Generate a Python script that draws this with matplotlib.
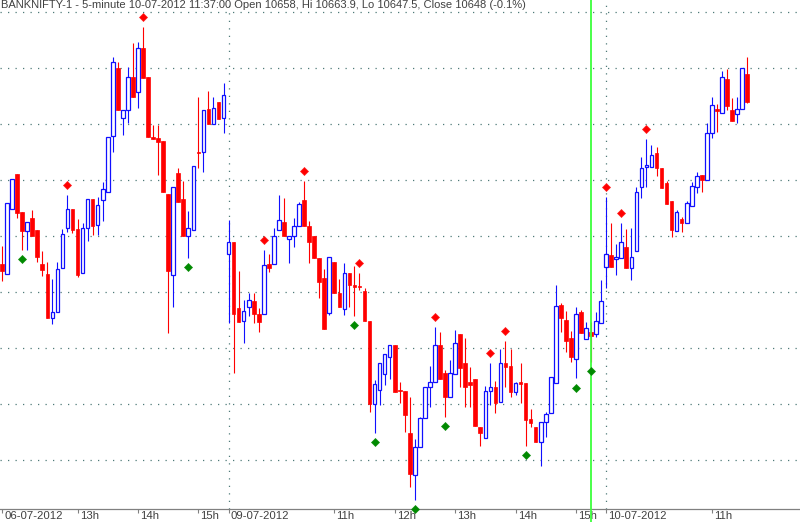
import numpy as np
import matplotlib
matplotlib.use("Agg")
import matplotlib.pyplot as plt

TITLE = ("BANKNIFTY-1 - 5-minute 10-07-2012 11:37:00 Open 10658, Hi 10663.9, "
         "Lo 10647.5, Close 10648 (-0.1%)")

# trading sessions visible on screen: date label, first bar, last bar
SESSIONS = [("06-07-2012", "11:45", "15:25"),
            ("09-07-2012", "09:15", "15:25"),
            ("10-07-2012", "09:15", "11:35")]

opens = [
    10590.1, 10586.5, 10609.7, 10622.3, 10608.6, 10602.0, 10606.7, 10602.3, 10590.1, 10586.5,
    10570.7, 10573.0, 10588.6, 10602.9, 10609.9, 10602.5, 10587.0, 10602.9, 10613.2, 10603.9,
    10613.0, 10615.9, 10635.8, 10660.0, 10642.2, 10645.1, 10656.8, 10651.7, 10667.2, 10657.0,
    10635.6, 10635.0, 10634.0, 10615.1, 10586.2, 10622.7, 10613.2, 10600.1, 10602.3, 10630.1,
    10630.0, 10645.5, 10640.0, 10648.1, 10642.2, 10593.6, 10597.8, 10574.3, 10569.8, 10574.9,
    10577.0, 10572.2, 10572.2, 10590.0, 10590.0, 10602.3, 10605.1, 10598.9, 10600.1, 10603.8,
    10613.0, 10603.8, 10600.1, 10592.2, 10585.2, 10572.7, 10590.9, 10579.9, 10573.9, 10587.0,
    10582.6, 10582.0, 10580.6, 10569.9, 10540.0, 10545.1, 10550.8, 10556.8, 10561.2, 10544.9,
    10544.8, 10529.9, 10514.8, 10524.9, 10535.0, 10546.1, 10548.1, 10561.2, 10551.1, 10542.7,
    10550.8, 10565.1, 10554.9, 10548.1, 10548.9, 10532.0, 10527.9, 10544.8, 10546.1, 10540.8,
    10554.9, 10553.7, 10544.5, 10547.9, 10547.5, 10534.7, 10532.0, 10526.7, 10533.7, 10536.8,
    10547.7, 10575.5, 10570.1, 10563.6, 10556.1, 10573.1, 10563.3, 10565.9, 10565.1, 10568.9,
    10588.9, 10593.3, 10591.8, 10592.2, 10596.1, 10588.6, 10594.9, 10617.5, 10624.7, 10624.9,
    10629.9, 10624.3, 10618.9, 10612.7, 10602.0, 10606.1, 10604.9, 10610.8, 10617.5, 10621.9,
    10620.1, 10637.0, 10645.4, 10644.2, 10656.1, 10645.1, 10643.7, 10645.4, 10658.0,
]
highs = [
    10596.5, 10611.8, 10620.4, 10622.3, 10608.6, 10605.1, 10609.4, 10602.3, 10594.8, 10590.7,
    10584.7, 10590.7, 10602.5, 10614.8, 10609.9, 10606.3, 10604.9, 10613.2, 10613.2, 10613.9,
    10619.4, 10635.6, 10663.9, 10662.4, 10645.1, 10660.6, 10668.9, 10669.5, 10674.9, 10657.0,
    10639.8, 10639.8, 10634.0, 10615.1, 10617.7, 10624.3, 10619.9, 10609.2, 10625.1, 10649.7,
    10645.1, 10652.0, 10649.9, 10648.1, 10654.9, 10605.8, 10597.8, 10587.7, 10577.3, 10579.9,
    10579.7, 10574.3, 10595.1, 10593.6, 10602.9, 10614.8, 10613.8, 10600.1, 10606.4, 10612.4,
    10619.8, 10605.6, 10600.1, 10592.2, 10588.2, 10592.7, 10590.9, 10584.7, 10590.4, 10587.0,
    10589.5, 10587.0, 10581.7, 10569.9, 10548.7, 10554.7, 10558.0, 10561.2, 10561.2, 10548.1,
    10544.8, 10542.5, 10527.5, 10535.6, 10546.1, 10553.7, 10567.5, 10565.9, 10552.3, 10555.8,
    10566.5, 10565.1, 10563.6, 10553.4, 10548.9, 10532.0, 10546.5, 10554.7, 10548.3, 10559.7,
    10562.7, 10559.7, 10548.1, 10554.7, 10547.5, 10538.2, 10532.0, 10533.7, 10537.4, 10549.7,
    10582.6, 10576.1, 10573.4, 10566.3, 10574.7, 10573.7, 10569.5, 10569.5, 10573.1, 10584.4,
    10613.9, 10604.7, 10597.3, 10604.7, 10602.5, 10602.9, 10617.7, 10628.4, 10634.7, 10632.6,
    10631.8, 10624.3, 10619.9, 10612.7, 10609.4, 10607.0, 10612.7, 10619.5, 10623.1, 10621.9,
    10640.4, 10649.9, 10647.3, 10659.2, 10659.7, 10649.3, 10649.9, 10660.0, 10663.9,
]
lows = [
    10584.2, 10586.5, 10609.7, 10606.4, 10595.1, 10595.1, 10600.1, 10590.9, 10585.8, 10570.7,
    10568.6, 10573.0, 10588.6, 10601.7, 10601.1, 10585.6, 10587.0, 10598.4, 10600.4, 10600.5,
    10605.6, 10615.9, 10630.2, 10645.1, 10636.2, 10640.4, 10649.9, 10645.7, 10656.4, 10635.6,
    10634.7, 10621.9, 10615.9, 10565.4, 10574.9, 10612.4, 10600.1, 10592.2, 10602.3, 10624.3,
    10623.1, 10640.1, 10640.0, 10641.9, 10636.8, 10569.0, 10551.3, 10569.5, 10562.0, 10571.7,
    10568.9, 10565.9, 10572.2, 10587.4, 10590.0, 10602.3, 10600.1, 10590.4, 10596.3, 10603.8,
    10603.8, 10590.4, 10592.2, 10578.1, 10566.8, 10571.9, 10579.9, 10574.9, 10571.9, 10574.9,
    10571.7, 10580.8, 10569.9, 10537.4, 10529.9, 10539.8, 10546.9, 10548.9, 10544.5, 10540.4,
    10530.2, 10510.6, 10505.8, 10524.9, 10535.0, 10538.9, 10548.1, 10548.9, 10535.4, 10542.7,
    10550.8, 10546.3, 10539.2, 10539.2, 10532.3, 10525.1, 10527.9, 10539.8, 10536.8, 10540.8,
    10546.1, 10542.7, 10543.3, 10540.4, 10525.1, 10532.0, 10526.7, 10518.0, 10528.4, 10536.8,
    10547.7, 10565.9, 10558.8, 10555.2, 10549.3, 10565.4, 10563.3, 10555.2, 10564.2, 10568.9,
    10581.5, 10588.9, 10586.2, 10592.2, 10588.6, 10584.4, 10594.9, 10613.6, 10617.5, 10624.9,
    10621.5, 10617.2, 10611.5, 10599.7, 10602.0, 10601.7, 10604.9, 10610.8, 10615.4, 10615.9,
    10620.1, 10635.0, 10637.4, 10644.2, 10645.1, 10641.3, 10640.4, 10645.4, 10647.5,
]
closes = [
    10587.7, 10611.8, 10620.4, 10608.2, 10602.0, 10605.1, 10600.1, 10592.5, 10588.0, 10570.7,
    10573.0, 10588.4, 10600.7, 10609.9, 10602.3, 10586.2, 10603.0, 10613.2, 10603.7, 10611.2,
    10617.0, 10635.6, 10662.4, 10645.1, 10645.1, 10656.8, 10649.9, 10667.2, 10656.4, 10635.6,
    10634.7, 10633.8, 10615.9, 10587.7, 10617.7, 10612.4, 10600.1, 10602.9, 10625.1, 10629.8,
    10645.1, 10640.1, 10645.9, 10641.9, 10650.5, 10597.8, 10572.3, 10569.5, 10573.3, 10577.3,
    10572.2, 10569.5, 10589.8, 10588.6, 10600.1, 10605.8, 10600.1, 10600.1, 10603.8, 10611.5,
    10603.8, 10598.1, 10592.2, 10583.8, 10566.8, 10592.7, 10579.9, 10574.9, 10587.0, 10582.6,
    10581.8, 10581.8, 10569.9, 10540.1, 10547.2, 10554.7, 10558.0, 10561.2, 10544.5, 10544.6,
    10536.2, 10515.1, 10524.9, 10535.0, 10546.1, 10548.1, 10561.2, 10548.9, 10542.7, 10551.1,
    10562.0, 10552.9, 10546.1, 10546.9, 10532.3, 10529.7, 10544.8, 10546.1, 10540.6, 10554.9,
    10553.4, 10544.5, 10547.5, 10547.3, 10534.4, 10533.4, 10526.7, 10533.7, 10536.5, 10549.7,
    10575.1, 10570.7, 10562.7, 10556.8, 10572.2, 10565.4, 10567.2, 10564.4, 10569.8, 10577.0,
    10593.7, 10588.9, 10592.5, 10598.1, 10588.6, 10592.5, 10615.9, 10624.3, 10625.5, 10629.0,
    10624.3, 10617.2, 10611.5, 10602.3, 10608.8, 10604.9, 10612.0, 10618.0, 10621.5, 10620.1,
    10637.0, 10646.9, 10644.9, 10656.8, 10646.5, 10641.3, 10645.4, 10660.0, 10648.0,
]

# bars flagged by the swing markers
swing_high_idx = [13, 28, 52, 60, 71, 86, 97, 100, 120, 123, 128]
swing_low_idx = [4, 37, 70, 74, 82, 88, 104, 114, 117]
cursor_idx = 117

GRID_LEVELS = [10520, 10540, 10560, 10580, 10600, 10620, 10640, 10660, 10680]

UP = "#1010ff"
DOWN = "#ff0000"
DOTS = "#4f7a78"
TEXT = "#404040"
AXIS = "#808080"


def to_min(s):
    h, m = s.split(":")
    return int(h) * 60 + int(m)


# build bar timeline
bar_time = []
session_start = []
for label, t0, t1 in SESSIONS:
    session_start.append((len(bar_time), label))
    t = to_min(t0)
    while t <= to_min(t1):
        bar_time.append(t)
        t += 5

o = np.array(opens)
h = np.array(highs)
l = np.array(lows)
c = np.array(closes)
x = np.arange(len(o))
up = c >= o

fig = plt.figure(figsize=(8, 5.22), dpi=100)
ax = fig.add_axes([0, 12.7 / 522, 1, 509.3 / 522])
ax.set_xlim(-0.4, 158.5)
ax.set_ylim(10502.5, 10684.4)

# grid: horizontal price levels and day separators
for lvl in GRID_LEVELS:
    ax.axhline(lvl, color=DOTS, lw=0.9, ls=(0, (1, 5)), zorder=0)
for k, _ in session_start[1:]:
    ax.axvline(k, color=DOTS, lw=0.9, ls=(0, (1, 5)), zorder=0)

# candles
ax.vlines(x[up], l[up], h[up], color=UP, lw=0.8, zorder=2)
ax.vlines(x[~up], l[~up], h[~up], color=DOWN, lw=0.8, zorder=2)
w = 0.72
body = np.maximum(np.abs(c - o), 0.35)
ax.bar(x[up], body[up], bottom=np.minimum(o, c)[up], width=w,
       facecolor="white", edgecolor=UP, linewidth=0.9, zorder=3)
ax.bar(x[~up], body[~up], bottom=np.minimum(o, c)[~up], width=w,
       facecolor=DOWN, edgecolor=DOWN, linewidth=0.5, zorder=3)

# selected bar line
ax.axvline(cursor_idx, ymin=-0.03, ymax=1, color="#3cff3c", lw=1.3,
           zorder=4, clip_on=False)

# swing markers
hi_i = np.array(swing_high_idx)
lo_i = np.array(swing_low_idx)
ax.plot(hi_i, h[hi_i] + 3.6, "D", ms=3.6, color="#ff0000", mec="#ff2020",
        mew=0.5, zorder=5, clip_on=False)
ax.plot(lo_i, l[lo_i] - 3.3, "D", ms=3.6, color="#008a00", mec="#109010",
        mew=0.5, zorder=5, clip_on=False)

# x ticks: date at session open, hours after that
ticks, labels = [], []
starts = [k for k, _ in session_start]
for k, lab in session_start:
    ticks.append(k)
    labels.append(lab)
for k, t in enumerate(bar_time):
    last_start = max(s for s in starts if s <= k)
    if t % 60 == 0 and k - last_start >= 12:
        ticks.append(k)
        labels.append(f"{t // 60}h")

for spine in ["top", "left", "right"]:
    ax.spines[spine].set_visible(False)
ax.spines["bottom"].set_color(AXIS)
ax.spines["bottom"].set_linewidth(0.9)
ax.set_yticks([])
ax.set_xticks(ticks)
ax.set_xticklabels([])
ax.tick_params(axis="x", direction="out", length=3, width=0.8, color=AXIS)

for k, lab in zip(ticks, labels):
    ax.annotate(lab, xy=(k, 0), xycoords=("data", "axes fraction"),
                xytext=(1.5, -1.5), textcoords="offset points",
                ha="left", va="top", fontsize=8.2, color=TEXT,
                family="Liberation Sans", annotation_clip=False)

fig.text(1 / 800, 1 - 0.5 / 522, TITLE, ha="left", va="top", fontsize=8,
         color=TEXT, family="Liberation Sans")

fig.savefig("out.png", dpi=100, facecolor="white")
